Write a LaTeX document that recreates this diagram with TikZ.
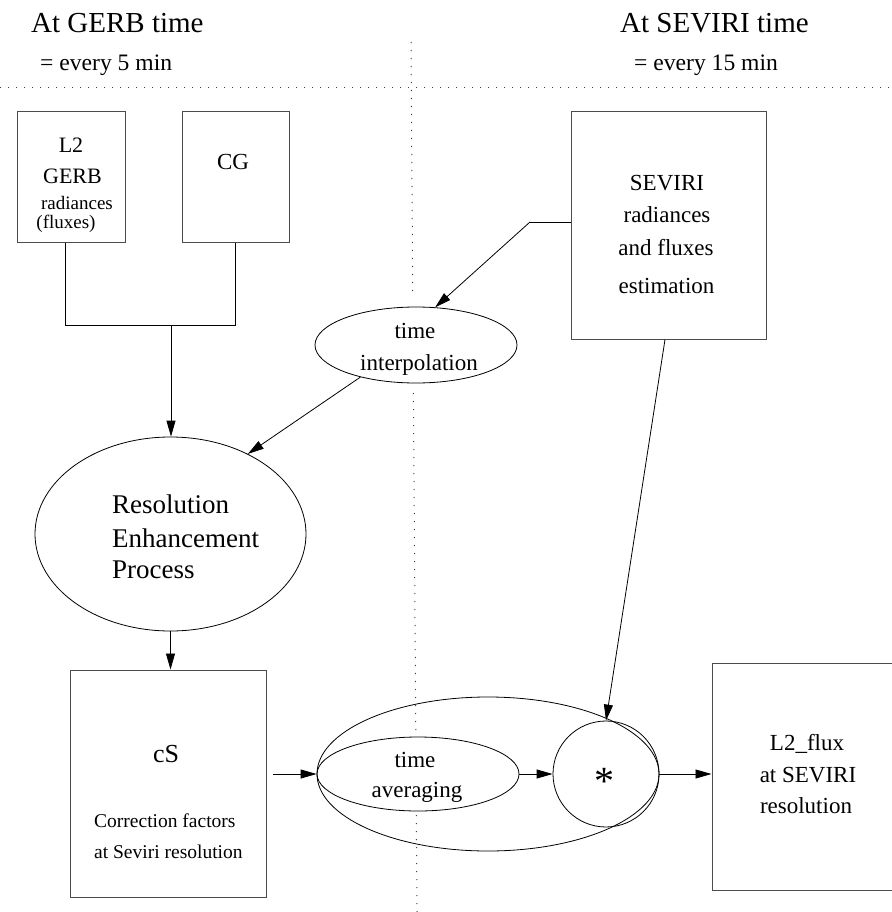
\documentclass[tikz,border=0pt]{standalone}
\usepackage{fontspec}
\setmainfont{Liberation Serif}
\usetikzlibrary{shapes.geometric,arrows.meta}
\newcommand\fsz[1]{\fontsize{#1}{#1}\selectfont}
\begin{document}
\begin{tikzpicture}[x=1pt,y=-1pt,
  box/.style={draw=black!70, line width=1pt, rectangle, inner sep=0pt},
  oval/.style={draw, line width=0.8pt, ellipse, inner sep=0pt},
  conn/.style={line width=0.8pt},
  arr/.style={conn, -{Triangle[length=16pt,width=9pt]}},
  sepline/.style={line width=1pt, black!75, dash pattern=on 1.2pt off 6.8pt},
  txt/.style={anchor=base, inner sep=0pt, font=\fsz{23}},
]
\useasboundingbox (0,0) rectangle (891,912);

% separators
\draw[sepline] (0,88) -- (891,88);
\draw[sepline] (411,42) -- (412.75,296);
\draw[sepline] (413.4,393) -- (415.8,733);
\draw[sepline] (416.3,815) -- (417,912);

% headers
\node[txt, font=\fsz{29}, anchor=base west] (h1) at (31,33) {At GERB time};
\node[txt, font=\fsz{23.6}, anchor=base west] (h1s) at (40,71) {= every 5 min};
\node[txt, font=\fsz{29}, anchor=base west] (h2) at (620,33) {At SEVIRI time};
\node[txt, font=\fsz{23.6}, anchor=base west] (h2s) at (634,71) {= every 15 min};

% shapes
\node[box, minimum width=108pt, minimum height=130pt] (gerb) at (71,177) {};
\node[box, minimum width=107pt, minimum height=130pt] (cg) at (235.5,177) {};
\node[box, minimum width=195pt, minimum height=227pt] (sev) at (668.5,225.5) {};
\node[oval, minimum width=202pt, minimum height=76pt] (tint) at (416,345) {};
\node[oval, minimum width=271pt, minimum height=194pt] (rep) at (170.5,534) {};
\node[box, minimum width=196pt, minimum height=227pt] (cs) at (168,783.5) {};
\node[oval, minimum width=202pt, minimum height=74pt] (tavg) at (418,774) {};
\node[oval, minimum width=342pt, minimum height=154pt] (grp) at (488,774) {};
\node[circle, draw, line width=0.8pt, minimum size=106pt, inner sep=0pt] (star) at (606,774) {};
\node[box, minimum width=192pt, minimum height=227pt] (flux) at (808,776.5) {};

% texts
\node[txt, font=\fsz{22}] (t1) at (71,153) {L2};
\node[txt, font=\fsz{22}] (t2) at (72.5,183) {GERB};
\node[txt, font=\fsz{19}] (t3) at (77,209) {radiances};
\node[txt, font=\fsz{19}] (t4) at (66,228) {(fluxes)};
\node[txt] (t5) at (233,170) {CG};

\node[txt] (s1) at (667,190) {SEVIRI};
\node[txt] (s2) at (667,222) {radiances};
\node[txt] (s3) at (666,255) {and fluxes};
\node[txt] (s4) at (666.5,293) {estimation};

\node[txt] (i1) at (415,338) {time};
\node[txt] (i2) at (419,370) {interpolation};

\node[txt, font=\fsz{27}, anchor=base west] (r1) at (112,513) {Resolution};
\node[txt, font=\fsz{27}, anchor=base west] (r2) at (112,547) {Enhancement};
\node[txt, font=\fsz{27}, anchor=base west] (r3) at (112,578) {Process};

\node[txt, font=\fsz{26}] (c1) at (166,762) {cS};
\node[txt, font=\fsz{19.5}, anchor=base west] (c2) at (94,827) {Correction factors};
\node[txt, font=\fsz{19.5}, anchor=base west] (c3) at (94,858) {at Seviri resolution};

\node[txt] (a1) at (415,767) {time};
\node[txt] (a2) at (417,797) {averaging};

\node[txt, font=\fsz{40}] (ast) at (604,794) {*};

\node[txt] (f1) at (807,750) {L2\_flux};
\node[txt] (f2) at (808,782) {at SEVIRI};
\node[txt] (f3) at (806,813) {resolution};

% connectors
\coordinate (j1) at (65,325);
\coordinate (j2) at (235,325);
\coordinate (j3) at (171,325);
\draw[conn] (gerb.south -| j1) -- (j1) -- (j2) -- (cg.south -| j2);
\draw[arr] (j3) -- (j3 |- rep.north);

\coordinate (k) at (530,222);
\draw[conn] (sev.west |- k) -- (k);
\draw[arr] (k) -- (tint.63);
\draw[arr] (tint.210) -- (rep.46);
\draw[arr] ([xshift=-3.5pt]sev.south) -- (star.north);
\draw[arr] (rep.south) -- (rep.south |- cs.north);
\coordinate (m) at ([xshift=6pt]cs.east);
\draw[arr] (m |- tavg.west) -- (tavg.west);
\draw[arr] (tavg.east) -- (star.west);
\draw[arr] (star.east) -- (star.east -| flux.west);
\end{tikzpicture}
\end{document}
